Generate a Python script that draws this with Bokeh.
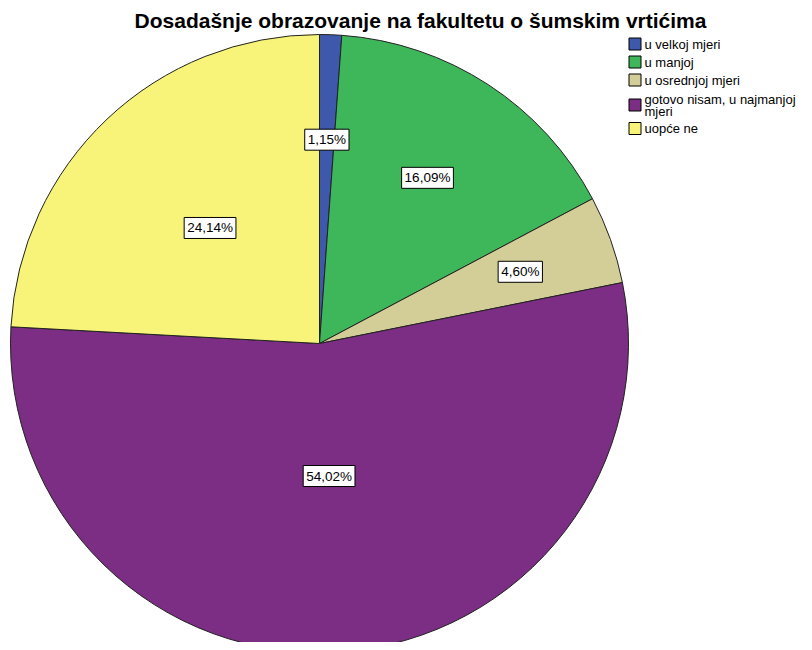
import math
from bokeh.plotting import figure
from bokeh.models import Range1d, ColumnDataSource
from bokeh.core.properties import value
from bokeh.embed import file_html
from bokeh.resources import INLINE

title = "Dosadašnje obrazovanje na fakultetu o šumskim vrtićima"
categories = ["u velkoj mjeri", "u manjoj", "u osrednjoj mjeri",
              "gotovo nisam, u najmanjoj\nmjeri", "uopće ne"]
percents = [1.15, 16.09, 4.60, 54.02, 24.14]
colors = ["#3E58AC", "#3EB75A", "#D3CE97", "#7C2D84", "#F8F47A"]

W, H = 804, 642
# data coordinates = picture pixels (x), y flipped (y_data = 650 - pic_y)
p = figure(width=W, height=H, output_backend="svg", toolbar_location=None,
           x_range=Range1d(0, W), y_range=Range1d(650 - H, 650),
           min_border=0)
p.axis.visible = False
p.grid.visible = False
p.outline_line_color = None
p.background_fill_color = "white"

cx, cy, r = 319, 650 - 343, 309
total = sum(percents)
starts, ends, cum = [], [], 0.0
for v in percents:
    starts.append(math.pi / 2 - 2 * math.pi * cum / total)
    cum += v
    ends.append(math.pi / 2 - 2 * math.pi * cum / total)

src = ColumnDataSource(dict(start=starts, end=ends, color=colors))
p.wedge(x=cx, y=cy, radius=r, start_angle="start", end_angle="end",
        direction="clock", fill_color="color", line_color="#222222",
        line_width=1, source=src)

# slice labels
label_r = [0.66, 0.64, 0.69, 0.43, 0.515]
lx, ly, lt = [], [], []
for s, e, v, f in zip(starts, ends, percents, label_r):
    m = (s + e) / 2
    lx.append(cx + f * r * math.cos(m))
    ly.append(cy + f * r * math.sin(m))
    lt.append(f"{v:.2f}".replace(".", ",") + "%")
p.text(x=lx, y=ly, text=lt, text_align="center", text_baseline="middle",
       text_font=value("Liberation Sans"), text_font_size="13.5px",
       text_color="black", background_fill_color="white",
       border_line_color="black", border_line_width=1, padding=3)

# title
p.text(x=[420], y=[650 - 20], text=[title], text_align="center",
       text_baseline="middle", text_font=value("Liberation Sans"),
       text_font_size="21px", text_font_style="bold", text_color="black")

# legend
leg_y = [43.5, 61.5, 79.5, 104.5, 128]
p.rect(x=[634.5] * 5, y=[650 - y for y in leg_y], width=12, height=12,
       fill_color=colors, line_color="black", line_width=1)
p.text(x=[644] * 5, y=[650 - y for y in leg_y], text=categories,
       text_align="left", text_baseline="middle",
       text_font=value("Liberation Sans"), text_font_size="13px",
       text_line_height=0.8, text_color="black")

open("out.html", "w").write(file_html(p, INLINE))
